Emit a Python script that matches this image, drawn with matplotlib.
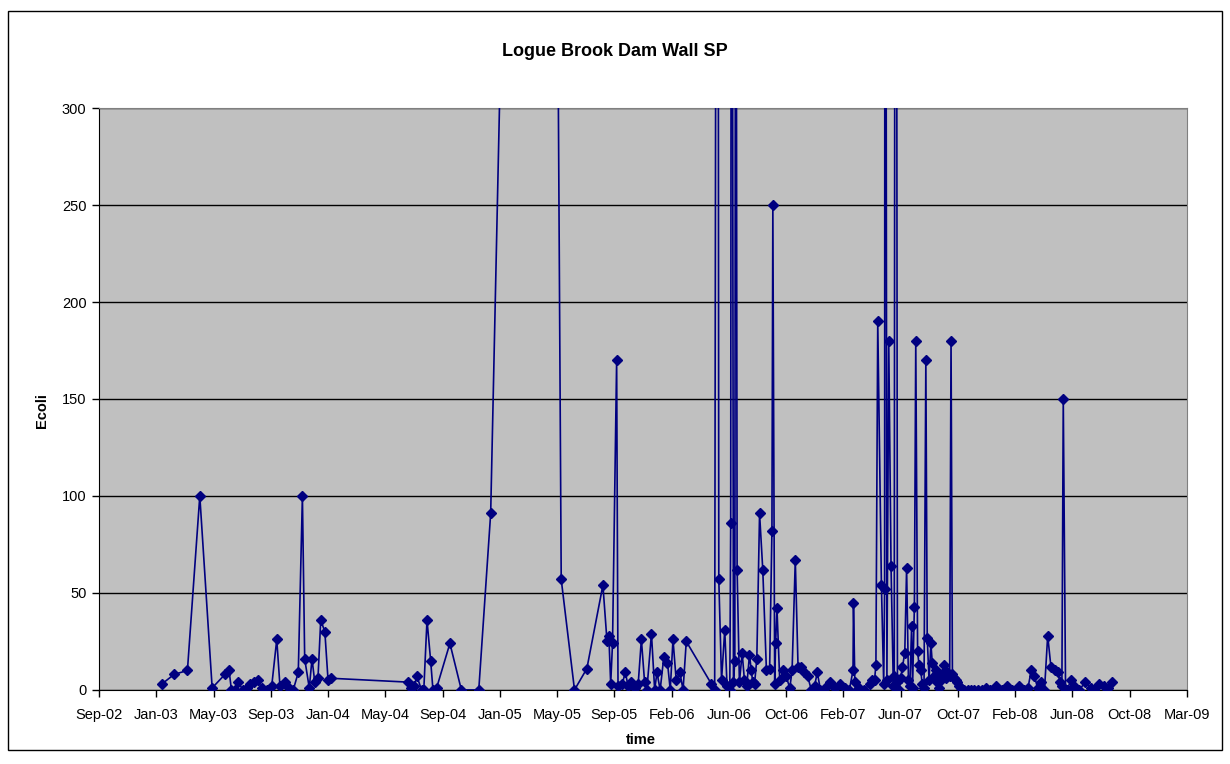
import matplotlib.pyplot as plt
import matplotlib.dates as mdates
from matplotlib.patches import Rectangle
import pandas as pd

plt.rcParams['font.family'] = ['Liberation Sans', 'DejaVu Sans']

# sample dates and E. coli counts (values above 300 run off the chart)
dates = [
    '2003-01-16', '2003-02-12', '2003-03-13', '2003-04-09', '2003-05-06',
    '2003-06-03', '2003-06-12', '2003-06-17', '2003-06-25', '2003-07-02',
    '2003-07-12', '2003-07-20', '2003-07-27', '2003-08-05', '2003-08-13',
    '2003-08-22', '2003-09-02', '2003-09-13', '2003-09-24', '2003-10-01',
    '2003-10-12', '2003-10-20', '2003-10-30', '2003-11-10', '2003-11-19',
    '2003-11-24', '2003-12-04', '2003-12-10', '2003-12-16', '2003-12-23',
    '2003-12-29', '2004-01-07', '2004-01-14', '2004-01-20', '2004-07-07',
    '2004-07-14', '2004-07-20', '2004-07-26', '2004-08-05', '2004-08-10',
    '2004-08-17', '2004-08-25', '2004-08-30', '2004-09-07', '2004-10-06',
    '2004-10-31', '2004-12-08', '2005-01-03', '2005-05-03', '2005-06-06',
    '2005-07-05', '2005-08-01', '2005-09-05', '2005-09-14', '2005-09-18',
    '2005-09-22', '2005-09-26', '2005-10-05', '2005-10-08', '2005-10-17',
    '2005-10-24', '2005-10-30', '2005-11-06', '2005-11-13', '2005-11-21',
    '2005-11-28', '2005-12-05', '2005-12-10', '2005-12-20', '2005-12-27',
    '2006-01-01', '2006-01-08', '2006-01-16', '2006-01-24', '2006-01-30',
    '2006-02-05', '2006-02-12', '2006-02-20', '2006-02-27', '2006-03-06',
    '2006-04-30', '2006-05-07', '2006-05-13', '2006-05-16', '2006-05-22',
    '2006-05-29', '2006-06-03', '2006-06-09', '2006-06-11', '2006-06-13',
    '2006-06-17', '2006-06-20', '2006-06-22', '2006-06-25', '2006-06-30',
    '2006-07-06', '2006-07-11', '2006-07-16', '2006-07-22', '2006-07-26',
    '2006-07-29', '2006-08-02', '2006-08-07', '2006-08-13', '2006-08-20',
    '2006-08-28', '2006-09-04', '2006-09-09', '2006-09-11', '2006-09-15',
    '2006-09-17', '2006-09-20', '2006-09-26', '2006-10-03', '2006-10-10',
    '2006-10-18', '2006-10-23', '2006-10-30', '2006-11-05', '2006-11-12',
    '2006-11-19', '2006-11-26', '2006-12-04', '2006-12-11', '2006-12-17',
    '2006-12-24', '2007-01-02', '2007-01-13', '2007-01-24', '2007-02-04',
    '2007-02-15', '2007-02-25', '2007-03-05', '2007-03-06', '2007-03-09',
    '2007-03-13', '2007-03-19', '2007-03-30', '2007-04-10', '2007-04-16',
    '2007-04-21', '2007-04-24', '2007-04-28', '2007-05-06', '2007-05-11',
    '2007-05-13', '2007-05-14', '2007-05-18', '2007-05-22', '2007-05-27',
    '2007-06-01', '2007-06-03', '2007-06-06', '2007-06-10', '2007-06-13',
    '2007-06-17', '2007-06-21', '2007-06-26', '2007-06-30', '2007-07-04',
    '2007-07-07', '2007-07-11', '2007-07-13', '2007-07-17', '2007-07-20',
    '2007-07-24', '2007-07-27', '2007-07-31', '2007-08-03', '2007-08-07',
    '2007-08-11', '2007-08-14', '2007-08-18', '2007-08-22', '2007-08-25',
    '2007-08-29', '2007-09-02', '2007-09-05', '2007-09-09', '2007-09-12',
    '2007-09-16', '2007-09-20', '2007-09-23', '2007-09-27', '2007-10-02',
    '2007-10-05', '2007-10-08', '2007-10-12', '2007-10-15', '2007-10-19',
    '2007-10-22', '2007-10-26', '2007-11-02', '2007-11-10', '2007-11-18',
    '2007-11-25', '2007-12-03', '2007-12-11', '2007-12-20', '2007-12-30',
    '2008-01-11', '2008-01-25', '2008-02-05', '2008-02-16', '2008-03-02',
    '2008-03-13', '2008-03-21', '2008-03-28', '2008-04-04', '2008-04-11',
    '2008-04-19', '2008-04-26', '2008-05-03', '2008-05-10', '2008-05-18',
    '2008-05-25', '2008-05-30', '2008-06-03', '2008-06-06', '2008-06-11',
    '2008-06-14', '2008-06-23', '2008-06-30', '2008-07-11', '2008-07-24',
    '2008-08-06', '2008-08-13', '2008-08-24', '2008-09-04', '2008-09-11',
    '2008-09-20',
]
ecoli = [
    3, 8, 10, 100, 1,
    8, 10, 0, 0, 4,
    0, 1, 3, 4, 5,
    1, 0, 2, 26, 2,
    4, 1, 0, 9, 100,
    16, 1, 16, 4, 6,
    36, 30, 5, 6, 4,
    1, 2, 7, 0, 0,
    36, 15, 0, 1, 24,
    0, 0, 91, 1400, 57,
    0, 11, 54, 25, 28,
    3, 24, 170, 2, 3,
    9, 2, 4, 1, 3,
    26, 4, 0, 29, 0,
    9, 0, 17, 14, 0,
    26, 5, 9, 0, 25,
    3, 0, 900, 57, 5,
    31, 2, 0, 86, 700,
    4, 15, 600, 62, 4,
    19, 5, 2, 18, 10,
    4, 3, 16, 91, 62,
    10, 11, 82, 250, 3,
    24, 42, 5, 10, 7,
    1, 10, 67, 12, 12,
    9, 7, 0, 2, 9,
    0, 1, 4, 1, 3,
    1, 0, 10, 45, 4,
    0, 1, 0, 3, 5,
    5, 13, 190, 54, 3,
    52, 800, 5, 180, 64,
    2, 7, 900, 4, 0,
    6, 12, 19, 63, 5,
    2, 33, 1, 43, 180,
    20, 13, 10, 3, 1,
    170, 27, 5, 24, 14,
    7, 10, 4, 1, 5,
    8, 13, 6, 9, 7,
    180, 8, 6, 5, 4,
    2, 1, 0, 0, 0,
    0, 0, 0, 1, 0,
    2, 0, 2, 0, 2,
    0, 1, 10, 7, 1,
    4, 0, 28, 12, 10,
    9, 4, 2, 150, 0,
    0, 5, 2, 0, 4,
    1, 0, 3, 2, 1,
    4,
]

x_min = pd.Timestamp('2002-09-01')
tick_step_days = 125
n_ticks = 20


def main():
    fig = plt.figure(figsize=(12.3, 7.64), dpi=100)
    ax = fig.add_axes([0.0805, 0.097, 0.8845, 0.7615])

    # Excel-like plot area:
    ax.set_facecolor('#C0C0C0')
    ax.plot(pd.to_datetime(dates), ecoli, color='#000080', lw=1.2,
            marker='D', markersize=5.3, zorder=3)

    ticks = [x_min + pd.Timedelta(days=tick_step_days * i)
             for i in range(n_ticks)]
    ax.set_xticks(ticks)
    ax.xaxis.set_major_formatter(mdates.DateFormatter('%b-%y'))
    ax.set_xlim(ticks[0], ticks[-1])
    ax.set_ylim(0, 300)
    ax.set_yticks(range(0, 301, 50))
    ax.grid(axis='y', color='black', lw=1)
    ax.set_axisbelow(True)

    ax.tick_params(labelsize=10.5, direction='out', length=5, width=1,
                   color='black')
    ax.tick_params(axis='x', pad=8)
    ax.tick_params(axis='y', pad=4)
    for side in ['top', 'right']:
        ax.spines[side].set_color('#808080')
    for side in ['left', 'bottom']:
        ax.spines[side].set_color('black')

    fig.text(0.5, 0.932, 'Logue Brook Dam Wall SP', fontsize=13,
             fontweight='bold', ha='center', va='center')
    fig.text(0.034, 0.463, 'Ecoli', fontsize=10.5, fontweight='bold',
             rotation=90, ha='center', va='center')
    fig.text(0.521, 0.031, 'time', fontsize=10.5, fontweight='bold',
             ha='center', va='center')

    # Border round the whole chart:
    fig.patches.append(Rectangle((0.0065, 0.018), 0.987, 0.968,
                                 transform=fig.transFigure, fill=False,
                                 edgecolor='black', lw=1))

    plt.savefig('out.png')


if __name__ == '__main__':
    main()
